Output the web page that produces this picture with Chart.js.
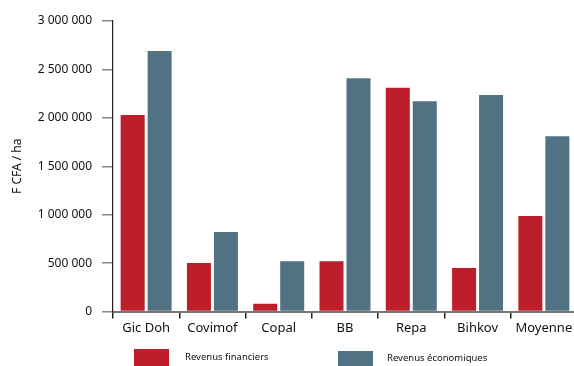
<!DOCTYPE html>
<html>
<head>
<meta charset="utf-8">
<script src="https://cdn.jsdelivr.net/npm/chart.js@4.4.1/dist/chart.umd.min.js"></script>
<style>
  html, body { margin: 0; padding: 0; background: #fff; overflow: hidden; }
  #wrap { width: 574px; height: 366px; overflow: hidden; }
  canvas { display: block; }
</style>
</head>
<body>
<div id="wrap"><canvas id="c" width="577" height="366"></canvas></div>
<script>
// Revenus par hectare (F CFA / ha)
const categories = ['Gic Doh', 'Covimof', 'Copal', 'BB', 'Repa', 'Bihkov', 'Moyenne'];
const revenusFinanciers = [2030000, 500000, 80000, 520000, 2310000, 450000, 985000];
const revenusEconomiques = [2690000, 820000, 520000, 2410000, 2170000, 2235000, 1810000];
const yTicks = [0, 500000, 1000000, 1500000, 2000000, 2500000, 3000000];

const FONT = '"Noto Sans", "DejaVu Sans", sans-serif';
const RED = '#BC1F29';
const SLATE = '#507282';

// Thousands separated by spaces: 2 500 000
function fmt(v) {
  return String(v).replace(/\B(?=(\d{3})+(?!\d))/g, ' ');
}

// Legend drawn under the plot, one box + label per series
const bottomLegend = {
  id: 'bottomLegend',
  afterDraw(chart) {
    const ctx = chart.ctx;
    const slots = [
      { box: [134, 349, 35, 17], text: [185, 357] },
      { box: [338, 351, 35, 16], text: [387, 358] }
    ];
    ctx.save();
    ctx.font = '9.5px ' + FONT;
    ctx.textBaseline = 'middle';
    ctx.textAlign = 'left';
    chart.data.datasets.forEach((ds, i) => {
      const s = slots[i];
      ctx.fillStyle = ds.backgroundColor;
      ctx.fillRect(s.box[0], s.box[1], s.box[2], s.box[3]);
      ctx.fillStyle = '#111';
      ctx.fillText(ds.label, s.text[0], s.text[1]);
    });
    ctx.restore();
  }
};

new Chart(document.getElementById('c'), {
  type: 'bar',
  data: {
    labels: categories,
    datasets: [
      { label: 'Revenus financiers', data: revenusFinanciers, backgroundColor: RED },
      { label: 'Revenus économiques', data: revenusEconomiques, backgroundColor: SLATE }
    ]
  },
  options: {
    responsive: false,
    animation: false,
    layout: { padding: { top: 21, right: 0, bottom: 0, left: 0 } },
    datasets: { bar: { categoryPercentage: 0.814, barPercentage: 0.89 } },
    plugins: {
      legend: { display: false },
      tooltip: { enabled: false }
    },
    scales: {
      x: {
        afterFit(scale) { scale.height = 54.5; },
        grid: {
          offset: true,
          drawOnChartArea: false,
          drawTicks: true,
          tickLength: 7,
          tickColor: '#222',
          lineWidth: 1.5
        },
        border: { display: true, color: '#777', width: 2 },
        ticks: {
          color: '#111',
          font: { family: FONT, size: 13 },
          padding: 2,
          maxRotation: 0,
          autoSkip: false
        }
      },
      y: {
        min: 0,
        max: 3000000,
        afterFit(scale) { scale.width = 113; },
        afterBuildTicks(scale) { scale.ticks = yTicks.map(v => ({ value: v })); },
        grid: {
          drawOnChartArea: false,
          drawTicks: true,
          tickLength: 11,
          tickColor: '#888',
          lineWidth: 1.5
        },
        border: { display: true, color: '#222', width: 1.2 },
        ticks: {
          color: '#111',
          font: { family: FONT, size: 12 },
          padding: 10,
          callback: v => fmt(v)
        },
        title: {
          display: true,
          text: 'F CFA / ha',
          color: '#111',
          font: { family: FONT, size: 12 },
          padding: { top: 10, bottom: 0 }
        }
      }
    }
  },
  plugins: [bottomLegend]
});
</script>
</body>
</html>
